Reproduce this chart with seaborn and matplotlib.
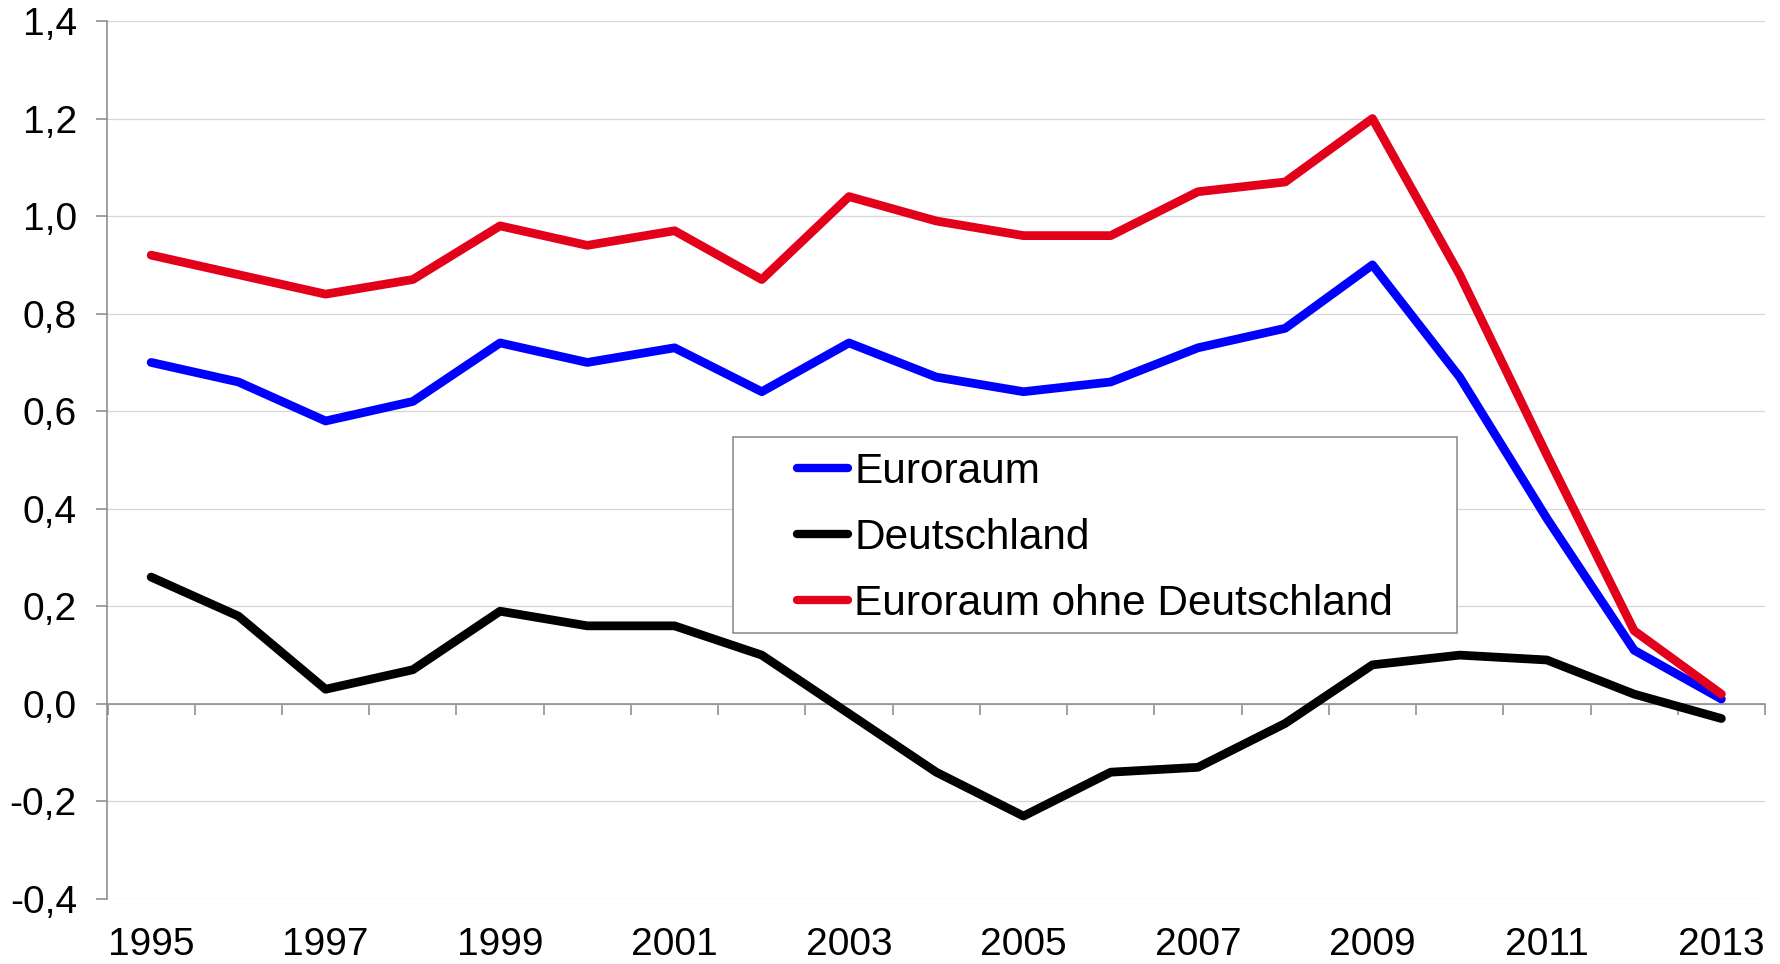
import matplotlib
matplotlib.use("Agg")
import pandas as pd
import matplotlib.pyplot as plt
import seaborn as sns
from matplotlib.patches import Rectangle
from matplotlib.ticker import FuncFormatter

# Data
years = list(range(1995, 2014))
euroraum = [0.70, 0.66, 0.58, 0.62, 0.74, 0.70, 0.73, 0.64, 0.74, 0.67,
            0.64, 0.66, 0.73, 0.77, 0.90, 0.67, 0.38, 0.11, 0.01]
deutschland = [0.26, 0.18, 0.03, 0.07, 0.19, 0.16, 0.16, 0.10, -0.02, -0.14,
               -0.23, -0.14, -0.13, -0.04, 0.08, 0.10, 0.09, 0.02, -0.03]
euroraum_ohne_de = [0.92, 0.88, 0.84, 0.87, 0.98, 0.94, 0.97, 0.87, 1.04, 0.99,
                    0.96, 0.96, 1.05, 1.07, 1.20, 0.88, 0.51, 0.15, 0.02]
series_names = ["Euroraum", "Deutschland", "Euroraum ohne Deutschland"]
series_colors = ["#0000FF", "#000000", "#E2001A"]
y_ticks = [-0.4, -0.2, 0.0, 0.2, 0.4, 0.6, 0.8, 1.0, 1.2, 1.4]
x_label_years = list(range(1995, 2014, 2))

# long-form table for seaborn
df = pd.DataFrame({
    "Jahr": years * 3,
    "Wert": euroraum + deutschland + euroraum_ohne_de,
    "Reihe": [series_names[0]] * len(years) + [series_names[1]] * len(years)
             + [series_names[2]] * len(years),
})

sns.set_style("white")
plt.rcParams["font.family"] = ["Liberation Sans", "DejaVu Sans"]
plt.rcParams["text.color"] = "black"
plt.rcParams["xtick.color"] = "black"
plt.rcParams["ytick.color"] = "black"

W, H = 1781, 964
fig = plt.figure(figsize=(W / 100, H / 100), dpi=100)
ax = fig.add_axes([107.5 / W, 1 - 899 / H, (1765 - 107.5) / W, (899 - 21) / H])

axis_gray = "#868686"

sns.lineplot(data=df, x="Jahr", y="Wert", hue="Reihe", hue_order=series_names,
             palette=series_colors, ax=ax, legend=False, zorder=5)
# thick lines with round ends like the original
for line in ax.lines:
    line.set_linewidth(6.3)
    line.set_solid_capstyle("round")
    line.set_solid_joinstyle("round")

ax.set_xlim(1994.5, 2013.5)
ax.set_ylim(-0.4, 1.4)
ax.set_xlabel("")
ax.set_ylabel("")

# y axis
ax.set_yticks(y_ticks)
ax.yaxis.set_major_formatter(FuncFormatter(lambda v, p: f"{v:.1f}".replace(".", ",")))
ax.tick_params(axis="y", direction="out", length=8, width=1.1, color=axis_gray,
               pad=14, labelsize=28, labelcolor="black", left=True)
ax.grid(axis="y", color="#d6d6d6", linewidth=0.9)
ax.grid(axis="x", visible=False)

# spines: left gray, bottom moved to zero line
for s in ["top", "right"]:
    ax.spines[s].set_visible(False)
ax.spines["left"].set_color(axis_gray)
ax.spines["left"].set_linewidth(1.1)
ax.spines["bottom"].set_position(("data", 0))
ax.spines["bottom"].set_color(axis_gray)
ax.spines["bottom"].set_linewidth(1.1)
ax.spines["bottom"].set_zorder(3)

# tick marks on the zero line between the years
ax.set_xticks([y - 0.5 for y in years] + [years[-1] + 0.5])
ax.tick_params(axis="x", direction="out", length=8, width=1.1, color=axis_gray,
               labelbottom=False, bottom=True)

# year labels below the plot area
sec = ax.secondary_xaxis("bottom")
sec.set_xticks(x_label_years)
sec.set_xticklabels([str(y) for y in x_label_years])
sec.tick_params(length=0, pad=20, labelsize=28, labelcolor="black")
sec.spines["bottom"].set_visible(False)

# legend with its own box
bx0, by0, bx1, by1 = 733, 437, 1457, 633
fig.patches.append(Rectangle((bx0 / W, 1 - by1 / H), (bx1 - bx0) / W, (by1 - by0) / H,
                             transform=fig.transFigure, facecolor="white",
                             edgecolor=axis_gray, linewidth=1.1, zorder=6))
handles = [plt.Line2D([], [], color=c, linewidth=6, solid_capstyle="round")
           for c in series_colors]
leg = fig.legend(handles, series_names, loc="center",
                 bbox_to_anchor=((bx0 + bx1) / 2 / W, 1 - (by0 + by1) / 2 / H - 0.003),
                 frameon=False, fontsize=30.5, handlelength=1.2, handletextpad=0.15,
                 labelspacing=0.62, borderpad=0)
for t in leg.get_texts():
    t.set_color("black")
leg.set_zorder(7)

fig.savefig("out.png", dpi=100, facecolor="white")
